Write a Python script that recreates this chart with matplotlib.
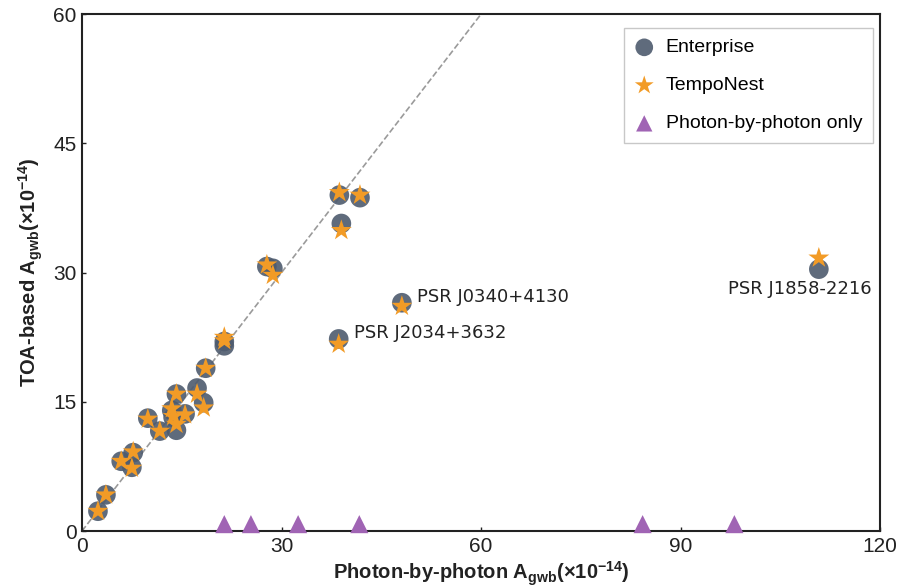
import matplotlib
matplotlib.use("Agg")
import matplotlib.pyplot as plt

plt.rcParams['font.family'] = ['Liberation Sans', 'DejaVu Sans']
plt.rcParams['mathtext.fontset'] = 'custom'
plt.rcParams['mathtext.rm'] = 'Liberation Sans'
plt.rcParams['mathtext.bf'] = 'Liberation Sans:bold'

# Photon-by-photon amplitude (x) and TOA-based amplitudes (y)
photon_amp = [2.4, 3.6, 5.9, 7.7, 7.5, 9.9, 11.7, 14.2, 13.7, 13.5, 15.5, 14.2,
              17.3, 18.3, 18.6, 21.4, 21.4, 27.8, 28.7, 38.7, 41.8, 39.0, 48.1,
              38.6, 110.8]
enterprise_amp = [2.3, 4.2, 8.1, 9.1, 7.4, 13.1, 11.6, 11.7, 13.2, 14.0, 13.6, 15.9,
                  16.6, 14.9, 18.9, 21.5, 22.0, 30.7, 30.5, 39.0, 38.7, 35.7, 26.5,
                  22.3, 30.4]
temponest_amp = [2.3, 4.2, 8.1, 9.2, 7.3, 13.0, 11.6, 12.4, 13.3, 14.2, 13.5, 15.9,
                 15.9, 14.3, 18.9, 22.5, 22.1, 30.9, 29.7, 39.3, 39.0, 34.9, 26.1,
                 21.7, 31.7]

# Photon-by-photon only pulsars
pp_only_x = [21.4, 25.4, 32.5, 41.7, 84.3, 98.1]
pp_only_y = [0.8, 0.8, 0.8, 0.8, 0.8, 0.8]

labels = ["PSR J0340+4130", "PSR J2034+3632", "PSR J1858-2216"]
label_x = [48.1, 38.6, 110.8]
label_y = [26.5, 22.3, 30.4]

xticks = [0, 30, 60, 90, 120]
yticks = [0, 15, 30, 45, 60]

fig = plt.figure(figsize=(9.05, 5.88), dpi=100)
ax = fig.add_axes([0.0906, 0.0969, 0.8818, 0.879])

ax.plot([0, 60], [0, 60], linestyle='--', color='#9a9a9a', linewidth=1.2, zorder=1)

ax.scatter(photon_amp, enterprise_amp, s=200, color='#4e5b6e', alpha=0.9,
           edgecolors='none', label='Enterprise', zorder=2)
ax.scatter(photon_amp, temponest_amp, s=250, marker='*', color='#f29b26',
           edgecolors='none', label='TempoNest', zorder=3)
ax.scatter(pp_only_x, pp_only_y, s=170, marker='^', color='#a064b4',
           edgecolors='none', label='Photon-by-photon only', zorder=3, clip_on=False)

offsets = [(2.3, 0.7), (2.3, 0.7), (-13.6, -2.3)]
for lab, lx, ly, (dx, dy) in zip(labels, label_x, label_y, offsets):
    ax.text(lx + dx, ly + dy, lab, fontsize=13, family='DejaVu Sans',
            color='#222222', va='center', ha='left')

ax.set_xlim(0, 120)
ax.set_ylim(0, 60)
ax.set_xticks(xticks)
ax.set_yticks(yticks)
ax.tick_params(direction='in', length=3, width=1, labelsize=15, colors='#222222', pad=4)
for sp in ax.spines.values():
    sp.set_linewidth(1.5)
    sp.set_color('#222222')

ax.set_xlabel(r'Photon-by-photon A$\mathbf{_{gwb}}$(×10$\mathbf{^{-14}}$)',
              fontsize=14.5, fontweight='bold', color='#222222', labelpad=3)
ax.set_ylabel(r'TOA-based A$\mathbf{_{gwb}}$(×10$\mathbf{^{-14}}$)',
              fontsize=14.5, fontweight='bold', color='#222222', labelpad=6)

leg = ax.legend(loc='upper right', fontsize=14, frameon=True, fancybox=False,
                borderpad=0.55, labelspacing=1.05, handletextpad=0.6,
                borderaxespad=0.0, handlelength=1.0,
                bbox_to_anchor=(0.991, 0.973), markerscale=0.9)
leg.get_frame().set_edgecolor('#bbbbbb')
leg.get_frame().set_linewidth(1.0)

fig.savefig('out.png', dpi=100)
